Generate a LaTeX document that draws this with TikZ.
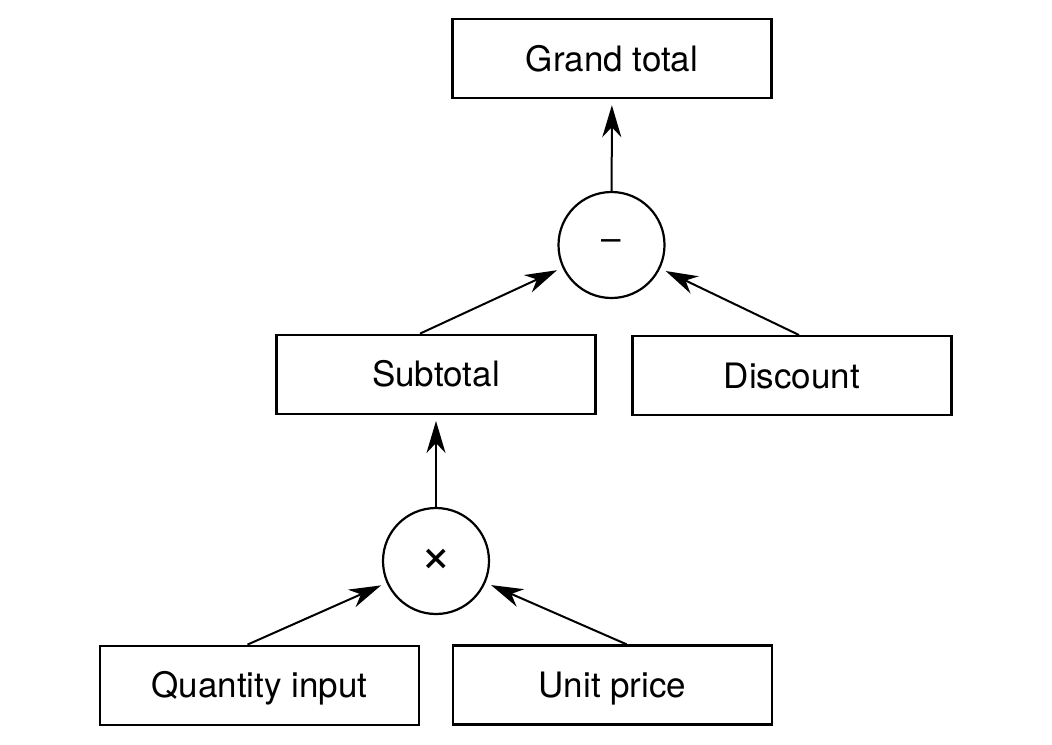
\documentclass[tikz,border=0pt]{standalone}
\usepackage{fontspec}
\setmainfont{TeX Gyre Heros}
\usetikzlibrary{arrows.meta, positioning}

\begin{document}
\begin{tikzpicture}[x=0.5pt, y=-0.5pt,
  box/.style={draw, line width=1.2pt, minimum width=159.5pt, minimum height=39.5pt, inner sep=0pt, text height=12.6pt, text depth=0pt, font=\fontsize{17.5}{21}\selectfont},
  op/.style={draw, circle, line width=1.1pt, minimum size=53pt, inner sep=0pt, font=\fontsize{17.5}{21}\selectfont},
  flow/.style={-{Stealth[length=16pt, width=9.5pt, inset=5pt]}, line width=1pt, shorten >=3pt}]
\useasboundingbox (0,0) rectangle (1052,744);

\node[box] (grand) at (612,58.5) {Grand total};
\node[op] (minus) at (611.5,245) {–};
\node[box] (sub) at (436,374.3) {Subtotal};
\node[box] (disc) at (792,375.7) {Discount};
\node[op, font=\fontsize{27}{30}\selectfont] (times) at (436,561) {×};
\node[box] (qty) at (259.5,685.3) {Quantity input};
\node[box] (price) at (612.5,685) {Unit price};

\draw[flow] (minus) -- (grand);
\draw[flow] ([xshift=-8pt]sub.north) -- (minus);
\draw[flow] ([xshift=3.5pt]disc.north) -- (minus);
\draw[flow] (times) -- (sub);
\draw[flow] ([xshift=-6pt]qty.north) -- (times);
\draw[flow] ([xshift=7pt]price.north) -- (times);
\end{tikzpicture}
\end{document}
